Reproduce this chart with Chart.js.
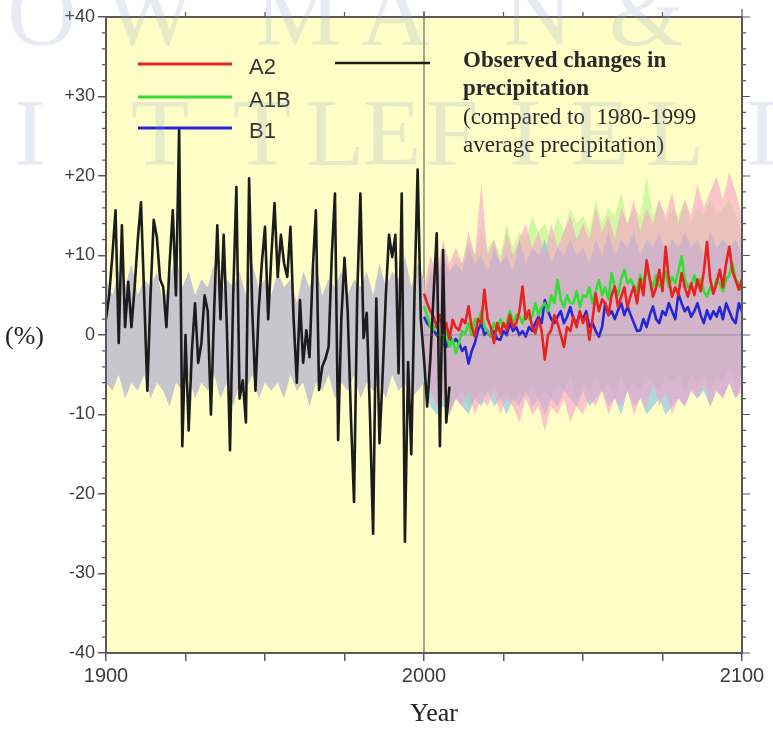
<!DOCTYPE html>
<html>
<head>
<meta charset="utf-8">
<title>Precipitation changes</title>
<script src="https://cdn.jsdelivr.net/npm/chart.js@4.4.1/dist/chart.umd.min.js"></script>
<style>
  html, body { margin: 0; padding: 0; background: #ffffff; }
  #wrap { width: 773px; height: 730px; }
</style>
</head>
<body>
<div id="wrap"><canvas id="precip" width="773" height="730"></canvas></div>
<script>
// Observed annual precipitation anomaly (%), 1900-2008
const observedStart = 1900;
const observed = [
  2, 5, 10, 15.7, -1, 13.8, 1, 6.7, 1, 6,
  12, 16.7, 5, -7, 5, 14.5, 12.3, 7, 6, 1,
  9, 15.7, 5, 26, -14, 0, -12, -2, 4, -3.5,
  -1, 5, 3, -10, 3, 13.8, 2, 12.6, 1, -14.5,
  5, 18.6, -8, -5.7, -11, 19.7, 3, -7, 3, 9,
  13.6, 2, 10, 16.6, 7.3, 12.6, 9, 7.3, 13.6, 2,
  -6, 4.4, -3.5, 0.6, -2.8, 8, 15.7, -6.9, -4, -3,
  -1.5, 10, 17.8, -13.2, 2, 9.7, 3, -10, -21, 5,
  17.8, -0.4, 2.8, -10, -25, 4.6, -13.6, -5, 5, 12.6,
  9.8, 12.6, -4.8, 17.8, -26, -3.4, -15, 5, 20.8, 2,
  -3, -9, -3, 5, 12.8, -14, 10.7, -11, -6.5
];

// 20th century model range (grey), every 2 years 1900-2000
const controlStart = 1900;
const controlUpper = [
  7, 5, 8, 6, 9, 5, 7, 6, 8, 4,
  7, 10, 6, 8, 5, 7, 6, 9, 5, 7,
  6, 8, 5, 9, 6, 7, 5, 8, 6, 7,
  4, 8, 6, 9, 5, 7, 6, 8, 5, 7,
  6, 8, 5, 9, 6, 8, 7, 10, 6, 9,
  7
];
const controlLower = [
  -6, -7, -5, -8, -6, -7, -5, -8, -6, -7,
  -9, -6, -7, -5, -8, -6, -7, -5, -8, -6,
  -9, -6, -7, -5, -8, -6, -7, -6, -8, -5,
  -7, -6, -9, -6, -7, -5, -8, -6, -7, -5,
  -8, -6, -7, -6, -8, -5, -7, -6, -8, -7,
  -6
];

// Scenario means, annual 2000-2100
const scenarioStart = 2000;
const a2Mean = [
  5.2, 4, 3, 2.3, 1, 2.5, 0.2, 1.5, -0.5, 1.9,
  1, 0.6, 2, 1.5, 3.6, 1, -0.2, 2, 1.5, 5.7,
  2, 1, -1, 1.5, 0.2, 1.5, 0.6, 2.5, 1, 1.5,
  3, 6.1, 2, 3.1, 1, 0.2, 2, 0.5, -3.1, 0,
  0.6, 2.5, 1.5, 0, -1.5, 1, 0.5, 2.3, 1, 3,
  1.5, 2.5, -0.6, 2, 5.2, 3, 4.5, 4, 2.5, 5,
  6.1, 3.5, 4.8, 6, 3.5, 5, 6.1, 4, 7, 5,
  9.4, 7, 4.8, 6, 8.2, 5.5, 11.1, 7, 4.8, 6,
  5, 7.8, 6, 4.8, 6.5, 5, 7, 5.5, 8, 11.7,
  7, 5.2, 6.5, 8.2, 6, 9, 11.1, 8, 6.9, 5.7,
  7
];
const a1bMean = [
  3.6, 2.5, 1, 0.6, 1.5, -0.5, -1, 0.5, -1.5, -0.5,
  -2.3, -1, 0.5, 0.2, 1.5, 0, 2, 1.5, 3, 1,
  0.5, -0.2, 1.5, 0.5, 2, 1, 1.5, 3, 1.5, 2.5,
  2.3, 1.5, 3, 2, 2.3, 4, 2.5, 3.5, 4, 3,
  5, 4, 6.9, 4.5, 3.5, 5, 4, 4, 5.5, 3.5,
  5, 4.8, 6, 4, 5.5, 6.9, 5, 6, 4.5, 7.8,
  6, 5, 7, 8.2, 6.5, 7, 6.1, 5.5, 7.5, 6.5,
  8.6, 7, 6, 7.5, 6.1, 6.5, 8, 6, 7.3, 6.5,
  8, 9.9, 7, 6, 6.1, 7.5, 6, 7, 5.5, 4.8,
  6, 5.5, 7, 6.5, 5.5, 7, 7.5, 9, 7, 6.5,
  5.5
];
const b1Mean = [
  2.3, 1.5, 1, 0.6, 0, -0.5, -1, -1.5, 0, -1,
  -0.5, -1, -2, -1.5, -3.6, -2, -1, 0.6, 1.5, 0,
  0.5, -0.2, 0.5, -0.5, -0.6, 0.5, 0, 1.5, 0.5, 1,
  0, 0.5, -0.2, 1, 0.5, 1.5, 2.3, 1.5, 4.4, 3,
  2, 1.5, 2.3, 3, 1.5, 2.3, 3.5, 2, 1.5, 2.7,
  2, 3, 1, 1.5, 0.5, -0.2, 1, 4, 2.5, 3,
  2, 3.1, 4, 2.5, 3.6, 2.5, 1.5, 0.5, 0.6, 2,
  1, 2.5, 3.6, 2, 1.5, 3, 2.5, 4, 3, 2,
  5.2, 4, 3, 3.5, 2.3, 3, 4, 2.5, 1.5, 3.1,
  2, 3, 2.3, 3.5, 2, 4, 3, 2, 1.5, 4,
  3
];

// Scenario model spread, every 2 years 2000-2100
const a2Upper = [
  6, 10, 8, 12, 9, 11, 9, 13, 10, 19,
  10, 12, 9, 13, 10, 12, 14, 11, 13, 10,
  14, 11, 13, 15, 12, 14, 12, 16, 13, 15,
  12, 16, 14, 17, 13, 16, 14, 17, 15, 18,
  14, 17, 15, 19, 16, 18, 20, 17, 20.5, 18,
  15
];
const a2Lower = [
  -4, -7, -9, -8, -10, -8, -9, -7, -10, -8,
  -9, -7, -10, -8, -9, -11, -8, -10, -9, -12,
  -9, -10, -8, -11, -9, -10, -8, -9, -7, -10,
  -8, -9, -7, -10, -8, -9, -6, -9, -7, -10,
  -8, -9, -7, -8, -6, -9, -7, -8, -6, -8,
  -7
];
const a1bUpper = [
  5, 9, 7, 11, 8, 10, 9, 12, 10, 13,
  11, 12, 10, 14, 11, 13, 12, 15, 13, 14,
  12, 15, 13, 16, 14, 15, 13, 17, 14, 16,
  15, 18, 14, 16, 15, 20, 15, 17, 14, 16,
  15, 17, 14, 16, 15, 17, 15, 16, 17, 15,
  13
];
const a1bLower = [
  -5, -7, -8, -7, -9, -8, -7, -9, -8, -7,
  -8, -6, -8, -7, -9, -7, -8, -6, -8, -7,
  -8, -6, -7, -5, -8, -6, -7, -5, -7, -6,
  -8, -5, -7, -6, -7, -5, -6, -7, -5, -6,
  -5, -7, -5, -6, -5, -7, -5, -6, -4, -6,
  -5
];
const b1Upper = [
  4, 8, 7, 10, 8, 9, 8, 11, 9, 10,
  8, 11, 9, 10, 8, 12, 9, 11, 10, 12,
  9, 11, 10, 12, 10, 11, 9, 12, 10, 13,
  10, 12, 11, 13, 10, 12, 11, 13, 10, 12,
  11, 13, 11, 12, 10, 13, 11, 12, 11, 12,
  10
];
const b1Lower = [
  -6, -9, -10, -9, -10, -8, -9, -10, -8, -9,
  -7, -9, -8, -10, -8, -9, -7, -9, -8, -10,
  -8, -9, -7, -8, -9, -7, -9, -8, -7, -9,
  -8, -10, -7, -9, -8, -10, -9, -8, -10, -9,
  -8, -9, -7, -8, -7, -9, -7, -8, -6, -8,
  -6
];

const scenarioLabels = ['A2', 'A1B', 'B1'];
const scenarioColors = ['#e8231f', '#33dd33', '#2626d6'];
const xLabelYears = [1900, 2000, 2100];
const noteLines = [
  'Observed changes in',
  'precipitation',
  '(compared to  1980-1999',
  'average precipitation)'
];
const yearTitle = 'Year';
const unitTitle = '(%)';

function series(start, step, values) {
  return values.map((v, i) => ({ x: start + i * step, y: v }));
}

function band(upper, lower, start, step, color, order) {
  return [
    { data: series(start, step, upper), fill: '+1', backgroundColor: color,
      borderColor: 'rgba(0,0,0,0)', borderWidth: 0, order: order },
    { data: series(start, step, lower), fill: false,
      borderColor: 'rgba(0,0,0,0)', borderWidth: 0, order: order }
  ];
}

function line(start, values, color, width, order) {
  return { data: series(start, 1, values), borderColor: color, borderWidth: width,
    fill: false, order: order, borderJoinStyle: 'round' };
}

// higher order is painted first: green spread, then blue, then pink on top
const datasets = [
  line(observedStart, observed, '#1c1c1c', 2.6, 1),
  line(scenarioStart, a2Mean, scenarioColors[0], 2.6, 2),
  line(scenarioStart, a1bMean, scenarioColors[1], 2.6, 3),
  line(scenarioStart, b1Mean, scenarioColors[2], 2.6, 4),
  ...band(a2Upper, a2Lower, scenarioStart, 2, 'rgba(246,160,200,0.6)', 10),
  ...band(b1Upper, b1Lower, scenarioStart, 2, 'rgba(100,175,240,0.5)', 11),
  ...band(a1bUpper, a1bLower, scenarioStart, 2, 'rgba(170,240,130,0.5)', 12),
  ...band(controlUpper, controlLower, controlStart, 2, '#c6c6cc', 13)
];

const axisColor = '#5a5a5a';
const labelColor = '#3c3c3c';

// yellow plot background
const plotBackground = {
  id: 'plotBackground',
  beforeDatasetsDraw(chart) {
    const { ctx, chartArea: a } = chart;
    ctx.save();
    ctx.fillStyle = '#fefec6';
    ctx.fillRect(a.left, a.top, a.right - a.left, a.bottom - a.top);
    // year 2000 divider
    const x2000 = chart.scales.x.getPixelForValue(2000);
    ctx.strokeStyle = '#666';
    ctx.lineWidth = 1.2;
    ctx.beginPath();
    ctx.moveTo(x2000, a.top - 6);
    ctx.lineTo(x2000, a.bottom);
    ctx.stroke();
    ctx.restore();
  }
};

// frame, minor ticks, legend and notes
const overlays = {
  id: 'overlays',
  afterDatasetsDraw(chart) {
    const { ctx, chartArea: a, scales } = chart;
    const x = scales.x, y = scales.y;
    ctx.save();

    // zero reference for the projection period
    ctx.strokeStyle = 'rgba(110,110,110,0.55)';
    ctx.lineWidth = 1;
    ctx.beginPath();
    ctx.moveTo(x.getPixelForValue(2000), y.getPixelForValue(0));
    ctx.lineTo(a.right, y.getPixelForValue(0));
    ctx.stroke();

    ctx.strokeStyle = axisColor;
    ctx.lineWidth = 2;
    ctx.strokeRect(a.left, a.top, a.right - a.left, a.bottom - a.top);

    ctx.lineWidth = 1.2;
    ctx.beginPath();
    for (let v = -40; v <= 40; v += 2) {
      const py = y.getPixelForValue(v);
      const major = v % 10 === 0;
      if (!major) {
        ctx.moveTo(a.left - 4, py);
        ctx.lineTo(a.left, py);
      }
      ctx.moveTo(a.right, py);
      ctx.lineTo(a.right + (major ? 8 : 4), py);
    }
    for (let yr = 1925; yr < 2100; yr += 25) {
      const px = x.getPixelForValue(yr);
      ctx.moveTo(px, a.top - 5);
      ctx.lineTo(px, a.top);
    }
    ctx.moveTo(a.right, a.top);
    ctx.lineTo(a.right, a.top - 8);
    ctx.stroke();
    ctx.restore();
  },
  afterDraw(chart) {
    const { ctx } = chart;
    ctx.save();

    // legend
    const rows = [64, 97, 128];
    ctx.lineWidth = 3;
    scenarioLabels.forEach((label, i) => {
      ctx.strokeStyle = scenarioColors[i];
      ctx.beginPath();
      ctx.moveTo(138, rows[i]);
      ctx.lineTo(232, rows[i]);
      ctx.stroke();
      ctx.fillStyle = '#333';
      ctx.font = '22px "Liberation Sans", Arial, sans-serif';
      ctx.textBaseline = 'alphabetic';
      ctx.fillText(label, 249, rows[i] + 10);
    });
    ctx.strokeStyle = '#1c1c1c';
    ctx.lineWidth = 2.6;
    ctx.beginPath();
    ctx.moveTo(335, 63);
    ctx.lineTo(430, 63);
    ctx.stroke();

    // note
    ctx.fillStyle = '#2a2a2a';
    const baselines = [67, 95, 124, 152];
    noteLines.forEach((t, i) => {
      ctx.font = (i < 2 ? 'bold ' : '') + '23px "Liberation Serif", "Times New Roman", serif';
      ctx.fillText(t, 463, baselines[i]);
    });

    // axis titles
    ctx.fillStyle = '#222';
    ctx.font = '26px "Liberation Serif", "Times New Roman", serif';
    ctx.textBaseline = 'middle';
    ctx.fillText(unitTitle, 5, 337);
    ctx.textAlign = 'center';
    ctx.textBaseline = 'alphabetic';
    ctx.fillText(yearTitle, 434, 721);

    // faint publisher watermark
    ctx.fillStyle = 'rgba(150,165,200,0.22)';
    ctx.font = '96px "Liberation Serif", "Times New Roman", serif';
    const top = [['O', 42], ['W', 150], ['M', 298], ['A', 395], ['N', 538], ['&', 646]];
    const bottom = [['I', 30], ['T', 160], ['T', 262], ['L', 335], ['E', 392], ['F', 452],
      ['I', 525], ['E', 600], ['L', 675], ['I', 762]];
    top.forEach(([c, px]) => ctx.fillText(c, px, 45));
    bottom.forEach(([c, px]) => ctx.fillText(c, px, 165));
    ctx.restore();
  }
};

new Chart(document.getElementById('precip'), {
  type: 'line',
  data: { datasets },
  options: {
    responsive: false,
    animation: false,
    events: [],
    layout: { padding: { top: 17, right: 31, left: 0, bottom: 0 } },
    plugins: {
      legend: { display: false },
      tooltip: { enabled: false },
      filler: { propagate: false }
    },
    elements: { point: { radius: 0 }, line: { tension: 0 } },
    scales: {
      x: {
        type: 'linear',
        min: 1900,
        max: 2100,
        afterFit: s => { s.height = 77; },
        ticks: {
          stepSize: 25,
          autoSkip: false,
          maxRotation: 0,
          padding: 3,
          color: labelColor,
          font: { family: '"Liberation Sans", Arial, sans-serif', size: 20 },
          callback: v => xLabelYears.includes(v) ? String(v) : ''
        },
        grid: { drawOnChartArea: false, tickLength: 8, color: axisColor, lineWidth: 1.5 },
        border: { color: axisColor, width: 2 }
      },
      y: {
        min: -40,
        max: 40,
        afterFit: s => { s.width = 106; },
        ticks: {
          stepSize: 10,
          padding: 3,
          color: labelColor,
          font: { family: '"Liberation Sans", Arial, sans-serif', size: 18 },
          callback: v => v > 0 ? '+' + v : String(v)
        },
        grid: { drawOnChartArea: false, tickLength: 8, color: axisColor, lineWidth: 1.5 },
        border: { color: axisColor, width: 2 }
      }
    }
  },
  plugins: [plotBackground, overlays]
});
</script>
</body>
</html>
